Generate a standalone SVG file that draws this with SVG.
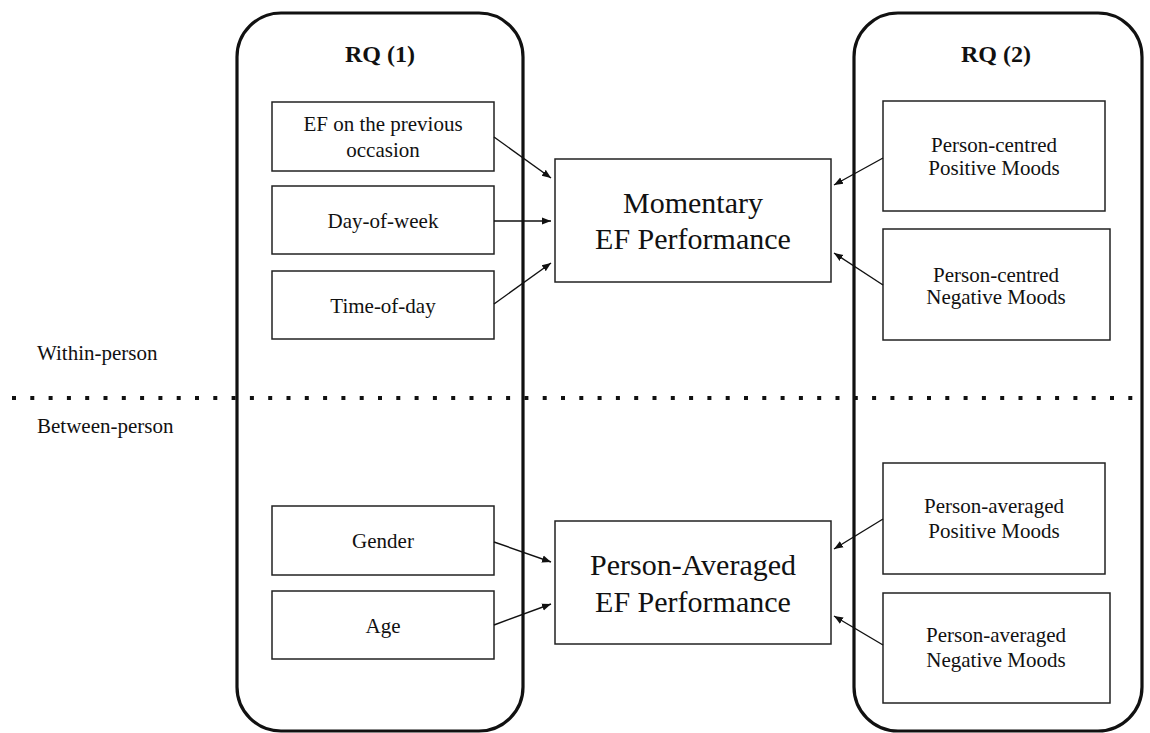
<svg xmlns="http://www.w3.org/2000/svg" width="1150" height="733" viewBox="0 0 1150 733">
<style>
.t{font-family:"Liberation Serif","Times New Roman",serif;fill:#111;text-anchor:middle}
.s{font-size:21px}
.b{font-size:30px}
.h{font-size:24px;font-weight:bold}
.l{font-family:"Liberation Serif","Times New Roman",serif;fill:#111;font-size:21px}
.box{fill:#fff;stroke:#222;stroke-width:1.5}
.cont{fill:none;stroke:#111;stroke-width:3.2}
.ar{stroke:#111;stroke-width:1.4;fill:none;marker-end:url(#ah)}
</style>
<defs>
<marker id="ah" viewBox="0 0 10 10" refX="10" refY="5" markerWidth="9" markerHeight="9" markerUnits="userSpaceOnUse" orient="auto">
<path d="M0,1 L10,5 L0,9 Z" fill="#111"/>
</marker>
</defs>
<rect width="1150" height="733" fill="#fff"/>
<line x1="12" y1="398" x2="1145" y2="398" stroke="#111" stroke-width="4" stroke-dasharray="4 14.3"/>
<text class="l" x="37" y="360">Within-person</text>
<text class="l" x="37" y="433">Between-person</text>
<g id="rq1">
<rect class="cont" x="237" y="13" width="286" height="718" rx="44" ry="44"/>
<text class="t h" x="380" y="62">RQ (1)</text>
</g>
<g id="rq2">
<rect class="cont" x="854" y="13" width="288" height="718" rx="44" ry="44"/>
<text class="t h" x="996" y="62">RQ (2)</text>
</g>
<g id="ef-prev"><rect class="box" x="272" y="102" width="222" height="69"/>
<text class="t s" x="383" y="131">EF on the previous</text><text class="t s" x="383" y="157">occasion</text></g>
<g id="dow"><rect class="box" x="272" y="186" width="222" height="68"/>
<text class="t s" x="383" y="228">Day-of-week</text></g>
<g id="tod"><rect class="box" x="272" y="271" width="222" height="68"/>
<text class="t s" x="383" y="313">Time-of-day</text></g>
<g id="gender"><rect class="box" x="272" y="506" width="222" height="69"/>
<text class="t s" x="383" y="548">Gender</text></g>
<g id="age"><rect class="box" x="272" y="591" width="222" height="68"/>
<text class="t s" x="383" y="633">Age</text></g>
<g id="momentary"><rect class="box" x="555" y="159" width="276" height="123"/>
<text class="t b" x="693" y="213">Momentary</text><text class="t b" x="693" y="249">EF Performance</text></g>
<g id="averaged"><rect class="box" x="555" y="521" width="276" height="123"/>
<text class="t b" x="693" y="575">Person-Averaged</text><text class="t b" x="693" y="612">EF Performance</text></g>
<g id="pc-pos"><rect class="box" x="883" y="101" width="222" height="110"/>
<text class="t s" x="994" y="152">Person-centred</text><text class="t s" x="994" y="175">Positive Moods</text></g>
<g id="pc-neg"><rect class="box" x="883" y="229" width="227" height="111"/>
<text class="t s" x="996" y="282">Person-centred</text><text class="t s" x="996" y="304">Negative Moods</text></g>
<g id="pa-pos"><rect class="box" x="883" y="463" width="222" height="111"/>
<text class="t s" x="994" y="513">Person-averaged</text><text class="t s" x="994" y="538">Positive Moods</text></g>
<g id="pa-neg"><rect class="box" x="883" y="593" width="227" height="110"/>
<text class="t s" x="996" y="642">Person-averaged</text><text class="t s" x="996" y="667">Negative Moods</text></g>
<g id="connectors">
<line class="ar" x1="494" y1="137" x2="551" y2="178"/>
<line class="ar" x1="494" y1="221" x2="551" y2="221"/>
<line class="ar" x1="494" y1="304" x2="551" y2="263"/>
<line class="ar" x1="494" y1="542" x2="551" y2="562"/>
<line class="ar" x1="494" y1="625" x2="551" y2="604"/>
<line class="ar" x1="883" y1="158" x2="834" y2="185"/>
<line class="ar" x1="883" y1="285" x2="834" y2="253"/>
<line class="ar" x1="883" y1="519" x2="834" y2="549"/>
<line class="ar" x1="883" y1="645" x2="834" y2="616"/>
</g>
</svg>
